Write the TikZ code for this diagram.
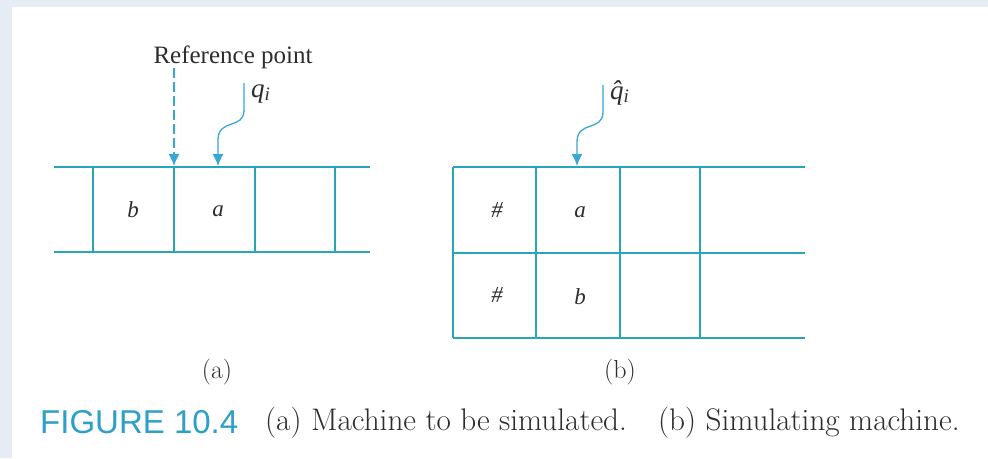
\documentclass[tikz,border=0pt]{standalone}
\usepackage{fontspec}
\usetikzlibrary{arrows.meta}
\newfontfamily\lblfont{Liberation Serif}
\newfontfamily\figfont{Liberation Sans}
\definecolor{bgcol}{RGB}{230,236,243}
\definecolor{tapecol}{RGB}{40,165,185}
\definecolor{arrcol}{RGB}{55,168,212}
\definecolor{figcol}{RGB}{45,160,200}
\definecolor{txtcol}{RGB}{45,45,45}
\tikzset{
  tapeline/.style={draw=tapecol, line width=1.5pt},
  ptr/.style={draw=arrcol, line width=1.3pt, -{Latex[length=12pt,width=11pt]}},
  refptr/.style={ptr, dash pattern=on 10pt off 4pt},
  sym/.style={inner sep=0pt, text=txtcol, font=\lblfont\itshape\fontsize{23}{27}\selectfont},
  lbl/.style={inner sep=0pt, text=txtcol, font=\lblfont\fontsize{25}{30}\selectfont},
  qlbl/.style={inner sep=0pt, text=txtcol, font=\lblfont\itshape\fontsize{27}{32}\selectfont},
  sublbl/.style={inner sep=0pt, text=txtcol, font=\fontsize{26}{30}\selectfont},
  captxt/.style={inner sep=0pt, text=txtcol, font=\fontsize{31.2}{36}\selectfont, anchor=base west},
}
\begin{document}
\begin{tikzpicture}[x=1pt,y=-1pt]
\useasboundingbox (0,0) rectangle (988,458);
\fill[bgcol] (0,0) rectangle (988,458);
\fill[white] (12,7) rectangle (988,458);

% ---------- (a) tape ----------
\draw[tapeline] (54,167) -- (370,167);
\draw[tapeline] (54,252) -- (370,252);
\foreach \x in {93,174,255,335} \draw[tapeline] (\x,167) -- (\x,252);
\node[sym] (cb) at (133,210) {b};
\node[sym] (ca) at (218,211) {a};

\node[lbl, anchor=base] (ref) at (233,63) {Reference point};
\coordinate (refs) at (174,68);
\coordinate (reft) at (174,166);
\draw[refptr] (refs) -- (reft);

\node[qlbl, anchor=base west] (qi) at (251,97) {q\raisebox{-0.3ex}{\fontsize{19}{22}\selectfont i}};
\coordinate (qs) at (244,83);
\coordinate (qt) at (218,166);
\draw[ptr] (qs) -- (244,110) .. controls (244,130) and (218,118) .. (218,140) -- (qt);

% ---------- (b) tape ----------
\draw[tapeline] (453,167) -- (805,167);
\draw[tapeline] (453,253) -- (805,253);
\draw[tapeline] (453,338) -- (805,338);
\foreach \x in {453,536,620,700} \draw[tapeline] (\x,167) -- (\x,338);
\node[sym] (h1) at (497,210) {\#};
\node[sym] (h2) at (497,295) {\#};
\node[sym] (ba) at (580,212) {a};
\node[sym] (bb) at (580,297) {b};

\node[qlbl, anchor=base west] (qhat) at (610,99) {\^{q}\raisebox{-0.3ex}{\fontsize{19}{22}\selectfont i}};
\coordinate (hs) at (603,85);
\coordinate (ht) at (577,166);
\draw[ptr] (hs) -- (603,112) .. controls (603,132) and (577,120) .. (577,142) -- (ht);

% ---------- sub-labels ----------
\node[sublbl] (la) at (217,372) {(a)};
\node[sublbl] (lb) at (620,372) {(b)};

% ---------- caption ----------
\node[inner sep=0pt, anchor=base west, text=figcol, font=\figfont\fontsize{33}{38}\selectfont] (fig) at (40,433) {FIGURE 10.4};
\node[captxt] (cap) at (265,430) {(a) Machine to be simulated.\quad (b) Simulating machine.};
\end{tikzpicture}
\end{document}
